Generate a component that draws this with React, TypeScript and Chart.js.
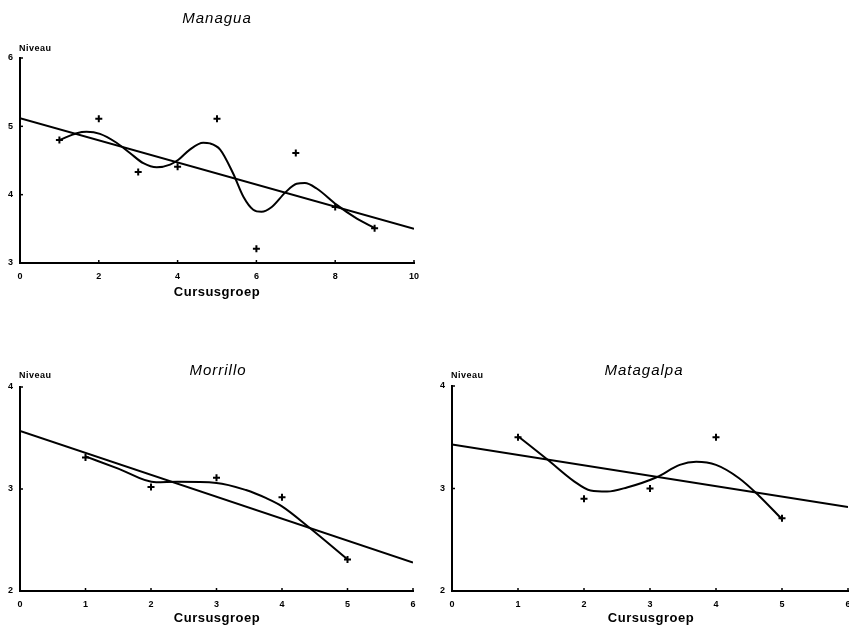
import React, { useEffect, useRef } from "react";
import { Chart, registerables } from "chart.js";

Chart.register(...registerables);
Chart.defaults.font.family = '"Liberation Sans", Arial, sans-serif';

// ---------- Managua ----------
const managuaGroups = [1, 2, 3, 4, 5, 6, 7, 8, 9];
const managuaLevels = [4.8, 5.11, 4.33, 4.41, 5.11, 3.21, 4.61, 3.82, 3.51];
const managuaTrendX = [0, 10];
const managuaTrendY = [5.12, 3.5];
const managuaCurveX = [1, 1.44, 1.69, 2.03, 2.45, 2.79, 3.13, 3.47, 3.81, 4.02, 4.31, 4.65, 4.82, 5.08, 5.41, 5.67, 5.92, 6.13, 6.39, 6.73, 7.02, 7.23, 7.53, 8.04, 8.55, 9.01];
const managuaCurveY = [4.8, 4.9, 4.92, 4.89, 4.76, 4.61, 4.46, 4.4, 4.44, 4.51, 4.66, 4.76, 4.75, 4.66, 4.31, 3.97, 3.78, 3.75, 3.82, 4.03, 4.16, 4.17, 4.09, 3.85, 3.65, 3.51];
const managuaXTicks = [0, 2, 4, 6, 8, 10];
const managuaYTicks = [3, 4, 5, 6];

// ---------- Morrillo ----------
const morrilloGroups = [1, 2, 3, 4, 5];
const morrilloLevels = [3.31, 3.02, 3.11, 2.92, 2.31];
const morrilloTrendX = [0, 6];
const morrilloTrendY = [3.57, 2.28];
const morrilloCurveX = [1, 1.5, 2.08, 2.4, 3.0, 3.45, 3.76, 4.0, 4.42, 5];
const morrilloCurveY = [3.32, 3.2, 3.065, 3.07, 3.06, 2.99, 2.91, 2.83, 2.62, 2.31];
const morrilloXTicks = [0, 1, 2, 3, 4, 5, 6];
const morrilloYTicks = [2, 3, 4];

// ---------- Matagalpa ----------
const matagalpaGroups = [1, 2, 3, 4, 5];
const matagalpaLevels = [3.5, 2.9, 3.0, 3.5, 2.71];
const matagalpaTrendX = [0, 6];
const matagalpaTrendY = [3.43, 2.82];
const matagalpaCurveX = [1, 1.45, 1.85, 2.1, 2.35, 2.65, 3.1, 3.45, 3.7, 4.0, 4.35, 4.65, 5];
const matagalpaCurveY = [3.51, 3.28, 3.07, 2.98, 2.97, 3.01, 3.11, 3.23, 3.26, 3.23, 3.1, 2.93, 2.7];
const matagalpaXTicks = [0, 1, 2, 3, 4, 5, 6];
const matagalpaYTicks = [2, 3, 4];

const INK = "#000";

const decorPlugin = {
  id: "decor",
  afterDraw(chart: any, _args: any, opts: any) {
    const { ctx, chartArea: a, scales } = chart;
    ctx.save();
    ctx.strokeStyle = INK;
    ctx.fillStyle = INK;
    ctx.lineWidth = 1.5;
    const xs = scales.x;
    const ys = scales.y;
    xs.ticks.forEach((t: any) => {
      const px = xs.getPixelForValue(t.value);
      ctx.beginPath();
      ctx.moveTo(px, a.bottom);
      ctx.lineTo(px, a.bottom - 3);
      ctx.stroke();
    });
    ys.ticks.forEach((t: any) => {
      const py = ys.getPixelForValue(t.value);
      ctx.beginPath();
      ctx.moveTo(a.left, py);
      ctx.lineTo(a.left + 3, py);
      ctx.stroke();
    });
    ctx.textBaseline = "middle";
    // title
    ctx.font = 'italic 15px "Liberation Sans", Arial, sans-serif';
    (ctx as any).letterSpacing = "1px";
    ctx.textAlign = "center";
    ctx.fillText(opts.title, opts.titleX, opts.titleY);
    // y label
    ctx.font = 'bold 9px "Liberation Sans", Arial, sans-serif';
    (ctx as any).letterSpacing = "0.5px";
    ctx.textAlign = "left";
    ctx.fillText("Niveau", opts.yLabX, opts.yLabY);
    // x label
    ctx.font = 'bold 13px "Liberation Sans", Arial, sans-serif';
    (ctx as any).letterSpacing = "0.5px";
    ctx.textAlign = "center";
    ctx.fillText("Cursusgroep", opts.xLabX, opts.xLabY);
    ctx.restore();
  },
};

type Spec = {
  left: number;
  top: number;
  width: number;
  height: number;
  padTop: number;
  padRight: number;
  yWidth: number;
  xHeight: number;
  xMin: number;
  xMax: number;
  yMin: number;
  yMax: number;
  xTicks: number[];
  yTicks: number[];
  groups: number[];
  levels: number[];
  trendX: number[];
  trendY: number[];
  curveX: number[];
  curveY: number[];
  title: string;
  titleX: number;
  titleY: number;
  yLabX: number;
  yLabY: number;
  xLabX: number;
  xLabY: number;
};

const specs: Spec[] = [
  {
    left: 0, top: 0, width: 430, height: 305, padTop: 58, padRight: 16, yWidth: 20, xHeight: 42,
    xMin: 0, xMax: 10, yMin: 3, yMax: 6, xTicks: managuaXTicks, yTicks: managuaYTicks,
    groups: managuaGroups, levels: managuaLevels, trendX: managuaTrendX, trendY: managuaTrendY,
    curveX: managuaCurveX, curveY: managuaCurveY,
    title: "Managua", titleX: 217, titleY: 19, yLabX: 19, yLabY: 49, xLabX: 217, xLabY: 292,
  },
  {
    left: 0, top: 355, width: 430, height: 273, padTop: 32, padRight: 17, yWidth: 20, xHeight: 37,
    xMin: 0, xMax: 6, yMin: 2, yMax: 4, xTicks: morrilloXTicks, yTicks: morrilloYTicks,
    groups: morrilloGroups, levels: morrilloLevels, trendX: morrilloTrendX, trendY: morrilloTrendY,
    curveX: morrilloCurveX, curveY: morrilloCurveY,
    title: "Morrillo", titleX: 218, titleY: 16, yLabX: 19, yLabY: 21, xLabX: 217, xLabY: 263,
  },
  {
    left: 430, top: 355, width: 419, height: 273, padTop: 31, padRight: 1, yWidth: 22, xHeight: 37,
    xMin: 0, xMax: 6, yMin: 2, yMax: 4, xTicks: matagalpaXTicks, yTicks: matagalpaYTicks,
    groups: matagalpaGroups, levels: matagalpaLevels, trendX: matagalpaTrendX, trendY: matagalpaTrendY,
    curveX: matagalpaCurveX, curveY: matagalpaCurveY,
    title: "Matagalpa", titleX: 214, titleY: 16, yLabX: 21, yLabY: 21, xLabX: 221, xLabY: 263,
  },
];

function Panel({ spec }: { spec: Spec }) {
  const ref = useRef<HTMLCanvasElement>(null);
  useEffect(() => {
    if (!ref.current) return;
    const pts = (xs: number[], ys: number[]) => xs.map((x, i) => ({ x, y: ys[i] }));
    const tickFont = { size: 9, weight: "bold" as const, family: '"Liberation Sans", Arial, sans-serif' };
    const chart = new Chart(ref.current, {
      type: "scatter",
      data: {
        datasets: [
          {
            data: pts(spec.groups, spec.levels),
            pointStyle: "cross",
            pointRadius: 3.5,
            pointBorderWidth: 2,
            borderColor: INK,
            backgroundColor: INK,
            showLine: false,
          },
          {
            data: pts(spec.trendX, spec.trendY),
            showLine: true,
            pointRadius: 0,
            borderWidth: 2,
            borderColor: INK,
            tension: 0,
          },
          {
            data: pts(spec.curveX, spec.curveY),
            showLine: true,
            pointRadius: 0,
            borderWidth: 2,
            borderColor: INK,
            cubicInterpolationMode: "monotone",
          },
        ],
      },
      options: {
        animation: false,
        responsive: false,
        events: [],
        layout: { autoPadding: false, padding: { top: spec.padTop, right: spec.padRight, left: 0, bottom: 0 } },
        plugins: {
          legend: { display: false },
          tooltip: { enabled: false },
          decor: {
            title: spec.title, titleX: spec.titleX, titleY: spec.titleY,
            yLabX: spec.yLabX, yLabY: spec.yLabY, xLabX: spec.xLabX, xLabY: spec.xLabY,
          },
        } as any,
        scales: {
          x: {
            type: "linear",
            min: spec.xMin,
            max: spec.xMax,
            grid: { display: false, drawTicks: false },
            border: { display: true, color: INK, width: 2 },
            ticks: { color: INK, font: tickFont, padding: 8, maxRotation: 0, autoSkip: false },
            afterBuildTicks: (s: any) => { s.ticks = spec.xTicks.map((v) => ({ value: v })); },
            afterFit: (s: any) => { s.height = spec.xHeight; s.paddingLeft = 0; s.paddingRight = 0; },
          },
          y: {
            type: "linear",
            min: spec.yMin,
            max: spec.yMax,
            grid: { display: false, drawTicks: false },
            border: { display: true, color: INK, width: 2 },
            ticks: { color: INK, font: tickFont, padding: 7 },
            afterBuildTicks: (s: any) => { s.ticks = spec.yTicks.map((v) => ({ value: v })); },
            afterFit: (s: any) => { s.width = spec.yWidth; s.paddingTop = 0; s.paddingBottom = 0; },
          },
        },
      },
      plugins: [decorPlugin as any],
    });
    return () => chart.destroy();
  }, [spec]);
  return (
    <canvas
      ref={ref}
      width={spec.width}
      height={spec.height}
      style={{ position: "absolute", left: spec.left, top: spec.top, width: spec.width, height: spec.height }}
    />
  );
}

export default function App() {
  return (
    <div style={{ position: "fixed", left: 0, top: 0, width: 849, height: 628, background: "#fff", overflow: "hidden" }}>
      {specs.map((s, i) => (
        <Panel key={i} spec={s} />
      ))}
    </div>
  );
}
